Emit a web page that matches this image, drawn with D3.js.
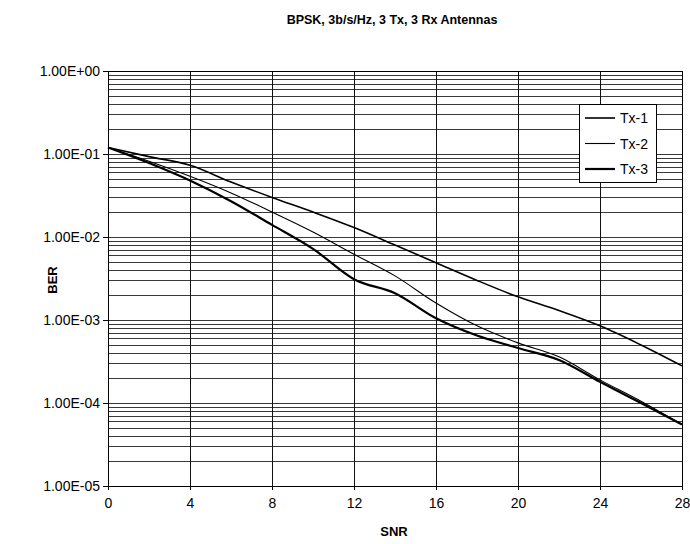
<!DOCTYPE html>
<html>
  <head>
    <title>BPSK BER</title>
    <script src="https://d3js.org/d3.v7.min.js"></script>
    <style>
      body { margin: 0; background: #fff; }
      text { font-family: Arial, "Liberation Sans", sans-serif; fill: #000; }
    </style>
  </head>
  <body>
    <svg width="690" height="544"></svg>
    <script>
      // values
      const snr = [0, 2, 4, 6, 8, 10, 12, 14, 16, 18, 20, 22, 24, 26, 28];
      const tx1 = [1.2e-1, 9.3e-2, 7.3e-2, 4.6e-2, 3.0e-2, 2.0e-2, 1.3e-2, 8.0e-3, 4.9e-3, 3.0e-3, 1.9e-3, 1.3e-3, 8.5e-4, 5.0e-4, 2.8e-4];
      const tx2 = [1.2e-1, 8.2e-2, 5.4e-2, 3.4e-2, 2.0e-2, 1.15e-2, 6.2e-3, 3.4e-3, 1.6e-3, 8.5e-4, 5.3e-4, 3.6e-4, 1.9e-4, 1.05e-4, 5.5e-5];
      const tx3 = [1.2e-1, 7.8e-2, 4.8e-2, 2.7e-2, 1.4e-2, 7.2e-3, 3.1e-3, 2.1e-3, 1.05e-3, 6.5e-4, 4.6e-4, 3.3e-4, 1.8e-4, 1.0e-4, 5.5e-5];
      const seriesNames = ['Tx-1', 'Tx-2', 'Tx-3'];
      const xTicks = [0, 4, 8, 12, 16, 20, 24, 28];
      const yTicks = [1, 1e-1, 1e-2, 1e-3, 1e-4, 1e-5];
      const yTickLabels = ['1.00E+00', '1.00E-01', '1.00E-02', '1.00E-03', '1.00E-04', '1.00E-05'];

      const svg = d3.select('svg');
      const margin = {top: 71, right: 8, bottom: 58, left: 108};
      const width = 690 - margin.left - margin.right;
      const height = 544 - margin.top - margin.bottom;

      const x = d3.scaleLinear().domain([0, 28]).range([0, width]);
      const y = d3.scaleLog().domain([1e-5, 1]).range([height, 0]);

      const g = svg.append('g').attr('transform', `translate(${margin.left},${margin.top})`);

      // horizontal grid, every minor step of each decade
      const minor = [];
      for (let e = -5; e < 0; e++) {
        for (let m = 1; m < 10; m++) minor.push(m * Math.pow(10, e));
      }
      minor.push(1);
      g.append('g').selectAll('line').data(minor).enter().append('line')
        .attr('x1', 0).attr('x2', width)
        .attr('y1', d => Math.round(y(d)) + 0.5).attr('y2', d => Math.round(y(d)) + 0.5)
        .attr('stroke', '#222').attr('stroke-width', 0.9);

      // vertical grid
      g.append('g').selectAll('line').data(xTicks).enter().append('line')
        .attr('x1', d => Math.round(x(d)) + 0.5).attr('x2', d => Math.round(x(d)) + 0.5)
        .attr('y1', 0).attr('y2', height)
        .attr('stroke', '#111').attr('stroke-width', 1);

      const xAxis = d3.axisBottom(x).tickValues(xTicks).tickSize(4).tickPadding(8).tickFormat(d3.format('d'));
      const yAxis = d3.axisLeft(y).tickValues(yTicks).tickSize(5).tickPadding(3)
        .tickFormat((d, i) => yTickLabels[i]);

      const gx = g.append('g').attr('transform', `translate(0,${height})`).call(xAxis);
      const gy = g.append('g').call(yAxis);
      [gx, gy].forEach(a => {
        a.select('.domain').attr('stroke', '#000');
        a.selectAll('.tick line').attr('stroke', '#000');
        a.selectAll('text').style('font-size', '14px').attr('fill', '#000');
      });
      gx.select('.domain').remove();
      gy.select('.domain').remove();

      g.append('rect').attr('x', 0.5).attr('y', 0.5).attr('width', width).attr('height', height)
        .attr('fill', 'none').attr('stroke', '#000').attr('stroke-width', 1);

      const line = d3.line().x((d, i) => x(snr[i])).y(d => y(d)).curve(d3.curveMonotoneX);
      const data = [tx1, tx2, tx3];
      const widths = [1.6, 1.1, 2.2];
      g.append('g').selectAll('path').data(data).enter().append('path')
        .attr('d', line)
        .attr('fill', 'none')
        .attr('stroke', '#000')
        .attr('stroke-width', (d, i) => widths[i]);

      // legend
      const leg = g.append('g').attr('transform', `translate(${579 - margin.left},${104 - margin.top})`);
      leg.append('rect').attr('x', 0.5).attr('y', 0.5).attr('width', 77).attr('height', 78)
        .attr('fill', '#fff').attr('stroke', '#000');
      seriesNames.forEach((name, i) => {
        const yy = 14 + i * 25.5;
        leg.append('line').attr('x1', 6).attr('x2', 36).attr('y1', yy).attr('y2', yy)
          .attr('stroke', '#000').attr('stroke-width', widths[i]);
        leg.append('text').attr('x', 41).attr('y', yy + 5).style('font-size', '14px').text(name);
      });

      svg.append('text').attr('x', 392).attr('y', 24).attr('text-anchor', 'middle')
        .style('font-size', '12.5px').style('font-weight', 'bold')
        .text('BPSK, 3b/s/Hz, 3 Tx, 3 Rx Antennas');

      svg.append('text').attr('transform', 'translate(57,280) rotate(-90)').attr('text-anchor', 'middle')
        .style('font-size', '13px').style('font-weight', 'bold').text('BER');

      svg.append('text').attr('x', 394).attr('y', 536).attr('text-anchor', 'middle')
        .style('font-size', '13px').style('font-weight', 'bold').text('SNR');
    </script>
  </body>
</html>
